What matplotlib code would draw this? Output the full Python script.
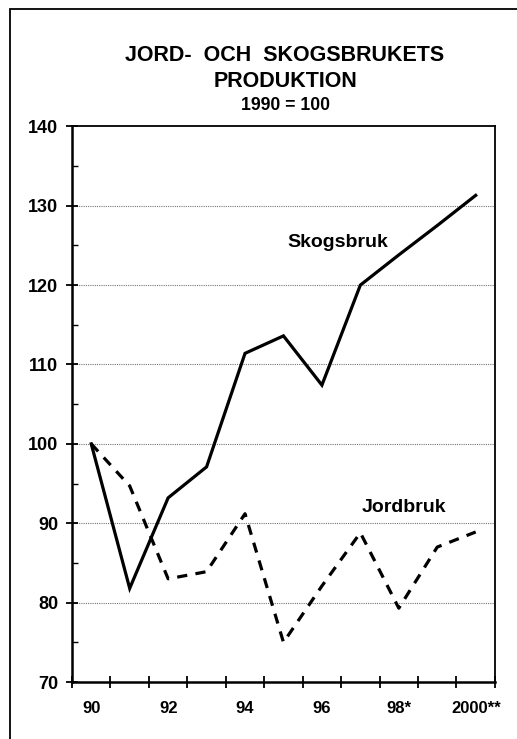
import numpy as np
import matplotlib.pyplot as plt
from matplotlib.patches import Rectangle

plt.rcParams['font.family'] = ['Liberation Sans', 'DejaVu Sans']
plt.rcParams['font.weight'] = 'bold'

years = [1990, 1991, 1992, 1993, 1994, 1995, 1996, 1997, 1998, 1999, 2000]
skogsbruk = [100, 81.8, 93.2, 97.1, 111.4, 113.6, 107.4, 120, 123.8, 127.5, 131.3]
jordbruk = [100, 94.7, 83, 83.9, 91.2, 75, 82.1, 88.8, 79.3, 87, 88.9]
xlabels = ['90', '92', '94', '96', '98*', '2000**']

fig = plt.figure(figsize=(5.17, 7.39), dpi=100)
ax = fig.add_axes([0.1393, 0.0771, 0.818, 0.752])

x = np.arange(len(years))
ax.plot(x, skogsbruk, color='black', lw=2.3, solid_joinstyle='miter')
ax.plot(x, jordbruk, color='black', lw=2.3, linestyle=(0, (3.2, 2.6)))

ax.set_xlim(-0.5, len(years) - 0.5)
ax.set_ylim(70, 140)

# ticks at year boundaries, labels every second year
ax.set_xticks(np.arange(-0.5, len(years), 1), minor=True)
ax.set_xticks(x[::2])
ax.set_xticklabels(xlabels)
ax.tick_params(axis='x', which='major', length=0, pad=14, labelsize=12)
ax.tick_params(axis='x', which='minor', direction='inout', length=9, width=1.3)

ax.set_yticks(np.arange(70, 141, 10))
ax.set_yticks(np.arange(75, 140, 10), minor=True)
ax.tick_params(axis='y', which='major', direction='inout', length=8, width=1.3, pad=6, labelsize=13)
ax.tick_params(axis='y', which='minor', direction='in', length=4, width=1)

for v in range(80, 140, 10):
    ax.axhline(v, color='#777777', lw=0.8, ls=(0, (1, 1)), zorder=0)

for s in ax.spines.values():
    s.set_linewidth(1.3)
ax.spines['left'].set_linewidth(1.8)
ax.spines['bottom'].set_linewidth(1.8)

ax.text(6.4, 125.4, 'Skogsbruk', fontsize=14, fontweight='bold', ha='center', va='center')
ax.text(8.14, 92, 'Jordbruk', fontsize=14, fontweight='bold', ha='center', va='center')

fig.text(0.551, 0.925, 'JORD-  OCH  SKOGSBRUKETS', fontsize=15.5, fontweight='bold', ha='center', va='center')
fig.text(0.553, 0.890, 'PRODUKTION', fontsize=15.5, fontweight='bold', ha='center', va='center')
fig.text(0.553, 0.857, '1990 = 100', fontsize=12.7, fontweight='bold', ha='center', va='center')

# outer frame
fig.patches.append(Rectangle((10 / 517, -0.05), 1.2, 1.05 - 9 / 739,
                             transform=fig.transFigure, fill=False, lw=1.3, ec='black'))

fig.savefig('out.png', dpi=100)
